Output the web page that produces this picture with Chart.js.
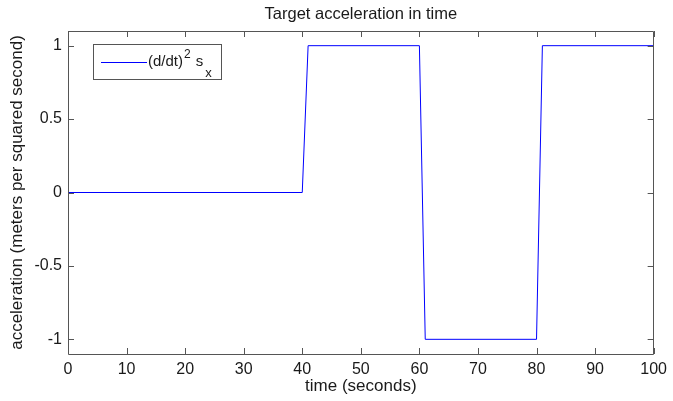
<!DOCTYPE html>
<html>
<head>
<meta charset="utf-8">
<script src="https://cdn.jsdelivr.net/npm/chart.js@4/dist/chart.umd.min.js"></script>
<style>
  html, body { margin: 0; padding: 0; background: #fff; }
  #c { display: block; }
</style>
</head>
<body>
<canvas id="c" width="673" height="401"></canvas>
<script>
// Commanded acceleration profile (breakpoints of the piecewise-linear signal)
const timeSeconds = [0, 40, 41, 60, 61, 80, 81, 100];
const acceleration = [0, 0, 1, 1, -1, -1, 1, 1];

// Axis tick values
const xTicks = [0, 10, 20, 30, 40, 50, 60, 70, 80, 90, 100];
const yTicks = [-1, -0.5, 0, 0.5, 1];

const titleText = 'Target acceleration in time';
const xLabel = 'time (seconds)';
const yLabel = 'acceleration (meters per squared second)';

const FONT = '"Liberation Sans", Arial, Helvetica, sans-serif';
const AXIS_COLOR = '#555555';
const TEXT_COLOR = '#1a1a1a';

// Draws the boxed axes with inward tick marks on all four sides,
// the centred title and the legend box.
const matlabAxes = {
  id: 'matlabAxes',
  afterDraw(chart) {
    const { ctx, chartArea: a, scales: { x, y } } = chart;
    const tl = 6;
    ctx.save();
    ctx.strokeStyle = AXIS_COLOR;
    ctx.lineWidth = 1;
    ctx.beginPath();
    ctx.rect(Math.round(a.left) + 0.5, Math.round(a.top) + 0.5,
             Math.round(a.right - a.left) - 1, Math.round(a.bottom - a.top));
    ctx.stroke();
    ctx.beginPath();
    xTicks.forEach(v => {
      const px = Math.round(x.getPixelForValue(v)) + 0.5;
      ctx.moveTo(px, a.bottom); ctx.lineTo(px, a.bottom - tl);
      ctx.moveTo(px, a.top); ctx.lineTo(px, a.top + tl);
    });
    yTicks.forEach(v => {
      const py = Math.round(y.getPixelForValue(v)) + 0.5;
      ctx.moveTo(a.left, py); ctx.lineTo(a.left + tl, py);
      ctx.moveTo(a.right, py); ctx.lineTo(a.right - tl, py);
    });
    ctx.stroke();

    // title centred over the axes
    ctx.fillStyle = TEXT_COLOR;
    ctx.font = '16.5px ' + FONT;
    ctx.textAlign = 'center';
    ctx.textBaseline = 'alphabetic';
    ctx.fillText(titleText, (a.left + a.right) / 2, 19);

    // legend
    const bx = 93, by = 44, bw = 128, bh = 35;
    ctx.fillStyle = '#ffffff';
    ctx.fillRect(bx, by, bw, bh);
    ctx.strokeStyle = AXIS_COLOR;
    ctx.strokeRect(bx + 0.5, by + 0.5, bw, bh);
    const ds = chart.data.datasets[0];
    ctx.strokeStyle = ds.borderColor;
    ctx.beginPath();
    ctx.moveTo(101, 62.5); ctx.lineTo(147, 62.5);
    ctx.stroke();
    ctx.fillStyle = TEXT_COLOR;
    ctx.textAlign = 'left';
    ctx.font = '15px ' + FONT;
    let tx = 148;
    ctx.fillText('(d/dt)', tx, 66);
    tx += ctx.measureText('(d/dt)').width + 1;
    ctx.font = '12px ' + FONT;
    ctx.fillText('2', tx, 58);
    tx += ctx.measureText('2').width + 5;
    ctx.font = '15px ' + FONT;
    ctx.fillText('s', tx, 66);
    tx += ctx.measureText('s').width + 2;
    ctx.font = '13px ' + FONT;
    ctx.fillText('x', tx, 77);
    ctx.restore();
  }
};

new Chart(document.getElementById('c'), {
  type: 'line',
  data: {
    datasets: [{
      label: '(d/dt)² sₓ',
      data: timeSeconds.map((t, i) => ({ x: t, y: acceleration[i] })),
      borderColor: '#0000ff',
      borderWidth: 1,
      pointRadius: 0,
      tension: 0,
      fill: false
    }]
  },
  options: {
    responsive: false,
    animation: false,
    events: [],
    layout: { padding: { top: 31, right: 17, left: 0, bottom: 0 } },
    plugins: {
      legend: { display: false },
      title: { display: false },
      tooltip: { enabled: false }
    },
    scales: {
      x: {
        type: 'linear',
        min: 0,
        max: 100,
        afterBuildTicks: s => { s.ticks = xTicks.map(v => ({ value: v })); },
        afterFit: s => { s.height = 47; },
        grid: { display: false, drawTicks: false },
        border: { display: false },
        ticks: {
          color: TEXT_COLOR,
          font: { family: FONT, size: 16 },
          padding: 6,
          maxRotation: 0,
          callback: v => String(v)
        },
        title: {
          display: true,
          text: xLabel,
          color: TEXT_COLOR,
          font: { family: FONT, size: 17 },
          padding: { top: 0, bottom: 4 }
        }
      },
      y: {
        type: 'linear',
        min: -1.1,
        max: 1.1,
        afterBuildTicks: s => { s.ticks = yTicks.map(v => ({ value: v })); },
        afterFit: s => { s.width = 68; },
        grid: { display: false, drawTicks: false },
        border: { display: false },
        ticks: {
          color: TEXT_COLOR,
          font: { family: FONT, size: 16 },
          padding: 6,
          callback: v => String(v)
        },
        title: {
          display: true,
          text: yLabel,
          color: TEXT_COLOR,
          font: { family: FONT, size: 17 },
          padding: { top: 7, bottom: 0 }
        }
      }
    }
  },
  plugins: [matlabAxes]
});
</script>
</body>
</html>
